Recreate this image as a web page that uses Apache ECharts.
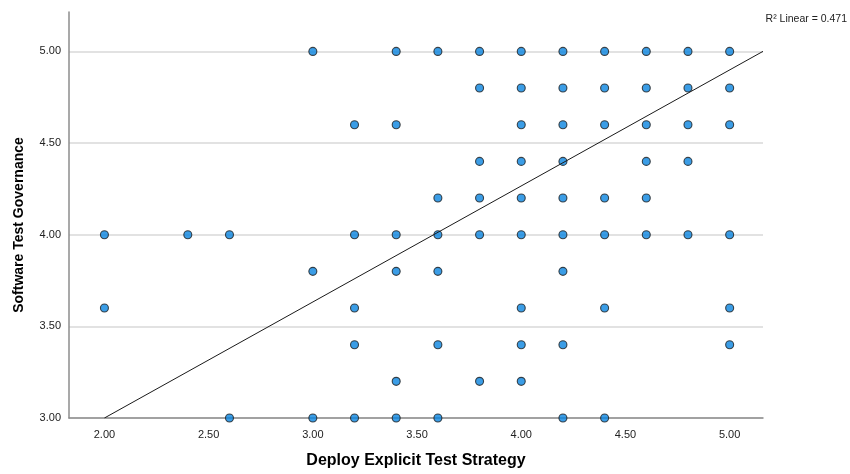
<!DOCTYPE html>
<html>
<head>
<meta charset="utf-8">
<title>Deploy Explicit Test Strategy vs Software Test Governance</title>
<script src="https://cdn.jsdelivr.net/npm/echarts@6/dist/echarts.min.js"></script>
<style>
  html, body { margin: 0; padding: 0; background: #fff; }
  #chart { width: 850px; height: 474px; }
</style>
</head>
<body>
<div id="chart"></div>
<script>
// Observed scores: one row per governance level, listing the strategy scores seen at that level
const governanceLevels = [5.0, 4.8, 4.6, 4.4, 4.2, 4.0, 3.8, 3.6, 3.4, 3.2, 3.0];
const strategyAtLevel = [
  [3.0, 3.4, 3.6, 3.8, 4.0, 4.2, 4.4, 4.6, 4.8, 5.0],
  [3.8, 4.0, 4.2, 4.4, 4.6, 4.8, 5.0],
  [3.2, 3.4, 4.0, 4.2, 4.4, 4.6, 4.8, 5.0],
  [3.8, 4.0, 4.2, 4.6, 4.8],
  [3.6, 3.8, 4.0, 4.2, 4.4, 4.6],
  [2.0, 2.4, 2.6, 3.2, 3.4, 3.6, 3.8, 4.0, 4.2, 4.4, 4.6, 4.8, 5.0],
  [3.0, 3.4, 3.6, 4.2],
  [2.0, 3.2, 4.0, 4.4, 5.0],
  [3.2, 3.6, 4.0, 4.2, 5.0],
  [3.4, 3.8, 4.0],
  [2.6, 3.0, 3.2, 3.4, 3.6, 4.2, 4.4]
];

// Tick labels
const xTicks = [2.0, 2.5, 3.0, 3.5, 4.0, 4.5, 5.0];
const yTicks = [3.0, 3.5, 4.0, 4.5, 5.0];

// Linear fit: governance = intercept + slope * strategy
const fitIntercept = 1.734;
const fitSlope = 0.633;
const fitR2 = '0.471';

const xMin = 1.83, xMax = 5.16;
const yMin = 3.0, yMax = 5.215;

const points = [];
governanceLevels.forEach((g, i) => {
  strategyAtLevel[i].forEach(s => points.push([s, g]));
});

// Fit line from where it enters the plot (y = yMin) to the right edge
const fitStart = (yMin - fitIntercept) / fitSlope;
const fitLine = [
  [fitStart, fitIntercept + fitSlope * fitStart],
  [xMax, fitIntercept + fitSlope * xMax]
];

const FONT = '"Liberation Sans", Arial, sans-serif';
const fmt = v => Number(v).toFixed(2);

const chart = echarts.init(document.getElementById('chart'), null, { renderer: 'canvas' });
chart.setOption({
  animation: false,
  backgroundColor: '#ffffff',
  grid: { left: 69, right: 87, top: 12, bottom: 50, containLabel: false },
  xAxis: {
    type: 'value',
    min: xMin,
    max: xMax,
    name: 'Deploy Explicit Test Strategy',
    nameLocation: 'middle',
    nameGap: 35,
    nameTextStyle: { fontFamily: FONT, fontSize: 16, fontWeight: 'bold', color: '#000' },
    axisLine: { show: true, onZero: false, lineStyle: { color: '#8c8c8c', width: 1.5 } },
    axisTick: { show: false, customValues: xTicks },
    axisLabel: {
      customValues: xTicks,
      formatter: fmt,
      margin: 11,
      fontFamily: FONT, fontSize: 11, color: '#222'
    },
    splitLine: { show: false }
  },
  yAxis: {
    type: 'value',
    min: yMin,
    max: yMax,
    name: 'Software Test Governance',
    nameLocation: 'middle',
    nameGap: 43,
    nameRotate: 90,
    nameTextStyle: {
      fontFamily: FONT, fontSize: 14, fontWeight: 'bold', color: '#000',
      padding: [0, 20, 0, 0]
    },
    axisLine: { show: true, onZero: false, lineStyle: { color: '#8c8c8c', width: 1.5 } },
    axisTick: { show: false, customValues: yTicks },
    axisLabel: {
      customValues: yTicks,
      formatter: fmt,
      margin: 8,
      fontFamily: FONT, fontSize: 11, color: '#222'
    },
    splitLine: { show: true, lineStyle: { color: '#d9d9d9', width: 1.5 } }
  },
  series: [
    {
      type: 'line',
      data: fitLine,
      symbol: 'none',
      lineStyle: { color: '#1a1a1a', width: 1 },
      z: 3,
      silent: true
    },
    {
      type: 'scatter',
      data: points,
      symbol: 'circle',
      symbolSize: 8,
      itemStyle: { color: '#0a84e0', borderColor: '#1e1e1e', borderWidth: 1.1 },
      z: 2
    }
  ],
  graphic: [
    {
      type: 'text',
      right: 3,
      top: 14,
      style: {
        text: 'R\u00B2 Linear = ' + fitR2,
        fontFamily: FONT,
        fontSize: 10.5,
        fill: '#222'
      }
    }
  ]
});
</script>
</body>
</html>
